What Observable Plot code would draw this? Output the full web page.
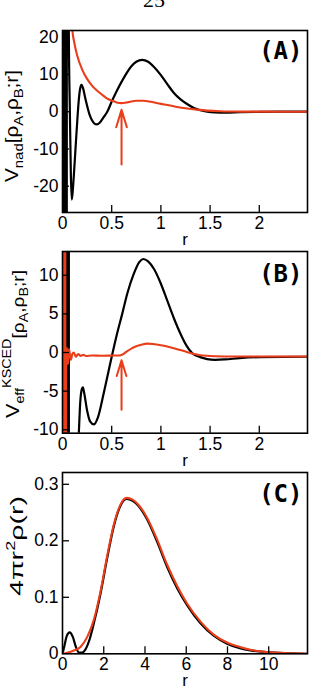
<!DOCTYPE html>
<html><head><meta charset="utf-8">
<script src="https://cdn.jsdelivr.net/npm/d3@7"></script>
<script src="https://cdn.jsdelivr.net/npm/@observablehq/plot@0.6"></script>
<style>
html,body{margin:0;padding:0;background:#fff;}
#page{position:relative;width:312px;height:688px;overflow:hidden;background:#fff;}
#page svg{position:absolute;left:0;}
</style></head>
<body><div id="page"></div>
<script>
// ---------- Panel A: V_nad ----------
const rA_black = [0,0.003,0.006,0.009,0.012,0.015,0.018,0.021,0.024,0.027,0.030,0.033,0.036,0.039,0.042,0.045,
  0.060,0.064,0.075,0.085,0.094,0.105,0.118,0.132,0.150,0.165,0.180,0.193,0.210,0.230,0.250,0.275,0.300,0.325,0.350,0.380,
  0.420,0.455,0.505,0.550,0.600,0.650,0.700,0.750,0.810,0.870,0.930,1.000,1.065,1.130,1.200,1.270,1.336,1.400,1.470,1.550,
  1.650,1.800,2.000,2.200,2.500];
const vA_black = [-300,300,-300,300,-300,300,-300,300,-300,300,-300,300,-300,300,-300,300,
  60,22,0,-17,-23.6,-21,-16,-10,-2.5,3,6.3,7.2,6.2,3.8,1.6,-0.8,-2.3,-3.2,-3.4,-2.9,
  -1.4,0,3.0,5.5,8.0,10.3,12.2,13.4,13.9,13.4,12.0,9.8,7.4,5.1,3.3,2.0,1.0,0.4,0.0,-0.2,
  -0.25,-0.15,-0.05,0,0];
const rA_red = [0,0.04,0.06,0.08,0.1,0.12,0.15,0.2,0.25,0.3,0.35,0.4,0.45,0.505,0.55,0.6,0.65,0.7,0.75,0.82,0.9,1.0,1.065,1.15,1.27,1.37,1.47,1.6,1.75,2.0,2.5];
const vA_red = [300,100,55,32,22,18.5,15,11.3,8.8,7,5.7,4.6,3.6,2.95,2.5,2.3,2.45,2.75,2.95,2.95,2.65,2.1,1.8,1.35,0.85,0.55,0.3,0.12,0.05,0.01,0];
const xTicksA = [0,0.5,1,1.5,2];
const yTicksA = [-20,-10,0,10,20];

// ---------- Panel B: V_eff^KSCED ----------
const rB_black = [0,0.003,0.006,0.009,0.012,0.015,0.018,0.021,0.024,0.027,0.030,0.033,0.036,0.039,0.042,0.045,0.048,0.051,0.054,0.057,0.060,0.063,0.066,
  0.15,0.166,0.18,0.195,0.207,0.22,0.25,0.28,0.32,0.36,0.42,0.47,0.51,0.55,0.607,0.66,0.725,0.78,0.82,0.87,
  0.93,1.0,1.065,1.13,1.2,1.26,1.32,1.4,1.47,1.55,1.65,1.8,2.0,2.5];
const vB_black = [-300,300,-300,300,-300,300,-300,300,-300,300,-300,300,-300,300,-300,300,-300,300,-300,300,-300,300,-300,
  -15,-10.4,-6.5,-4.8,-4.5,-5.2,-7.5,-8.9,-9.3,-8.4,-5.2,-2.3,0,2.2,5.0,7.7,10.2,11.7,12.1,11.8,
  10.8,8.9,6.7,4.5,2.4,0.9,-0.1,-0.6,-0.85,-0.95,-0.9,-0.72,-0.6,-0.55];
const rB_red = [0,0.003,0.006,0.009,0.012,0.015,0.018,0.021,0.024,0.027,0.030,
  0.036,0.045,0.055,0.066,0.085,0.1,0.115,0.135,0.16,0.185,0.21,0.24,0.3,0.4,0.5,0.58,0.61,0.65,0.7,0.75,
  0.8,0.86,0.92,1.0,1.065,1.15,1.27,1.4,1.55,1.75,2.0,2.5];
const vB_red = [-300,300,-300,300,-300,300,-300,300,-300,300,-300,
  -3.0,0.6,-1.5,0.45,-0.95,-0.2,0.0,-0.55,-0.2,-0.45,-0.3,-0.45,-0.38,-0.42,-0.4,-0.38,-0.25,0.1,0.5,0.8,
  1.0,1.15,1.1,0.95,0.78,0.5,0.04,-0.35,-0.48,-0.52,-0.52,-0.52];
const xTicksB = [0,0.5,1,1.5,2];
const yTicksB = [-10,-5,0,5,10];

// ---------- Panel C: 4 pi r^2 rho(r) ----------
const rC_black = [0,0.1,0.2,0.35,0.5,0.65,0.8,0.95,1.1,1.3,1.52,1.84,2.17,2.49,2.81,3.1,3.4,3.7,4.1,4.59,5.07,5.56,6.04,6.69,7.33,7.98,8.6,9.11,9.9,11,11.88];
const vC_black = [0,0.015,0.031,0.038,0.03,0.012,0.002,0.002,0.007,0.024,0.054,0.106,0.17,0.226,0.262,0.274,0.271,0.261,0.238,0.198,0.154,0.116,0.086,0.054,0.032,0.018,0.01,0.006,0.003,0.001,0];
const rC_red = [0,0.23,0.5,0.87,1.2,1.52,1.84,2.17,2.49,2.81,3.1,3.4,3.7,4.1,4.59,5.07,5.56,6.04,6.69,7.33,7.98,8.6,9.11,9.9,11,11.88];
const vC_red = [0,0.002,0.005,0.012,0.03,0.06,0.11,0.174,0.229,0.264,0.276,0.273,0.263,0.241,0.202,0.158,0.12,0.089,0.057,0.034,0.02,0.012,0.007,0.003,0.001,0];
const xTicksC = [0,2,4,6,8,10];
const yTicksC = [0,0.1,0.2,0.3];

// arrows (r position, tail value, head value) for panels A and B
const arrowR = [0.6, 0.6];
const arrowFrom = [-14.2, -7.4];
const arrowTo = [0.5, -1.0];

const panelLabels = ["(A)", "(B)", "(C)"];
const pageNumber = "25";

const RED = "#ea3d1a";
const FONT = "Liberation Sans, Arial, Helvetica, sans-serif";
const toRows = (rs, vs) => rs.map((r, i) => ({r, v: vs[i]}));

function panel({top, height, mt, mb, xDomain, yDomain, xTicks, yTicks, black, red, arrow, label, labelDy}) {
  const W = 312, ML = 62, MR = 5;
  const frameH = height - mt - mb, frameW = W - ML - MR;
  const marks = [
    Plot.line(black, {x: "r", y: "v", stroke: "#000", strokeWidth: 2.2, curve: "monotone-x", clip: true}),
    Plot.line(red, {x: "r", y: "v", stroke: RED, strokeWidth: 2.1, curve: "monotone-x", clip: true}),
    Plot.ruleX(xTicks.filter(d => d !== 0), {stroke: "#000", strokeWidth: 1.3, insetTop: frameH - 7}),
    Plot.ruleY(yTicks.filter(d => d !== yDomain[0]), {stroke: "#000", strokeWidth: 1.3, insetRight: frameW - 7}),
    Plot.axisX({ticks: xTicks, tickSize: 0, tickPadding: 4, tickFormat: d => String(d), label: null, fontSize: 17.5}),
    Plot.axisY({ticks: yTicks, tickSize: 0, tickPadding: 4, tickFormat: d => String(d), label: null, fontSize: 17.5}),
    Plot.frame({stroke: "#000", strokeWidth: 1.6}),
    Plot.text(["r"], {frameAnchor: "bottom", dy: 27, lineAnchor: "middle", fontSize: 17}),
    Plot.text([label], {frameAnchor: "top-right", dx: -5, dy: labelDy, textAnchor: "end", lineAnchor: "middle",
      fontSize: 24, fontWeight: "bold", fontFamily: "DejaVu Sans Mono, monospace"})
  ];
  if (arrow) marks.push(Plot.arrow(arrow, {x1: "r", x2: "r", y1: "from", y2: "to", stroke: RED, strokeWidth: 2,
    headLength: 15, headAngle: 34}));
  const svg = Plot.plot({
    width: W, height, marginTop: mt, marginBottom: mb, marginLeft: ML, marginRight: MR,
    style: {background: "transparent", overflow: "visible", fontFamily: FONT, color: "#000"},
    x: {domain: xDomain}, y: {domain: yDomain},
    marks
  });
  svg.style.top = top + "px";
  document.getElementById("page").appendChild(svg);
  return svg;
}

const svgA = panel({top: 0, height: 245, mt: 30, mb: 33, xDomain: [0, 2.49], yDomain: [-27.06, 21.8],
  xTicks: xTicksA, yTicks: yTicksA, black: toRows(rA_black, vA_black), red: toRows(rA_red, vA_red),
  arrow: [{r: arrowR[0], from: arrowFrom[0], to: arrowTo[0]}], label: panelLabels[0], labelDy: 21});
const svgB = panel({top: 245, height: 225, mt: 6, mb: 37.3, xDomain: [0, 2.49], yDomain: [-10.44, 13.07],
  xTicks: xTicksB, yTicks: yTicksB, black: toRows(rB_black, vB_black), red: toRows(rB_red, vB_red),
  arrow: [{r: arrowR[1], from: arrowFrom[1], to: arrowTo[1]}], label: panelLabels[1], labelDy: 23});
const svgC = panel({top: 470, height: 218, mt: 2, mb: 34.7, xDomain: [0, 11.88], yDomain: [0, 0.3209],
  xTicks: xTicksC, yTicks: yTicksC, black: toRows(rC_black, vC_black), red: toRows(rC_red, vC_red),
  arrow: null, label: panelLabels[2], labelDy: 22});

// y-axis labels with sub/superscripts
function ylabel(svg, x, y, len, size, parts) {
  const t = d3.select(svg).append("text")
    .attr("transform", `translate(${x},${y}) rotate(-90)`)
    .attr("text-anchor", "middle").attr("font-family", FONT).attr("font-size", size)
    .attr("textLength", len).attr("lengthAdjust", "spacingAndGlyphs").attr("fill", "#000");
  for (const p of parts) {
    const s = t.append("tspan").text(p.t);
    if (p.dy) s.attr("dy", p.dy);
    if (p.fs) s.attr("font-size", p.fs);
  }
}
ylabel(svgA, 18, 126, 112, 18, [
  {t: "V"}, {t: "nad", dy: 5, fs: 13}, {t: "[ρ", dy: -5}, {t: "A", dy: 5, fs: 13},
  {t: ",ρ", dy: -5}, {t: "B", dy: 5, fs: 13}, {t: ";r]", dy: -5}
]);
ylabel(svgB, 19, 99, 148, 18, [
  {t: "V"}, {t: "eff", dy: 5, fs: 12}, {t: "KSCED", dy: -13, fs: 12}, {t: "[ρ", dy: 13, fs: 16},
  {t: "A", dy: 4, fs: 12}, {t: ",ρ", dy: -4, fs: 16}, {t: "B", dy: 4, fs: 12}, {t: ";r]", dy: -4, fs: 16}
]);
ylabel(svgC, 23, 76, 100, 19, [
  {t: "4πr"}, {t: "2", dy: -8, fs: 12}, {t: "ρ(r)", dy: 8}
]);

// page number at top
d3.select(svgA).append("text").attr("x", 154).attr("y", 7).attr("text-anchor", "middle")
  .attr("font-family", "Liberation Serif, DejaVu Serif, serif").attr("font-size", 22).attr("fill", "#000")
  .text(pageNumber);
</script>
</body></html>
